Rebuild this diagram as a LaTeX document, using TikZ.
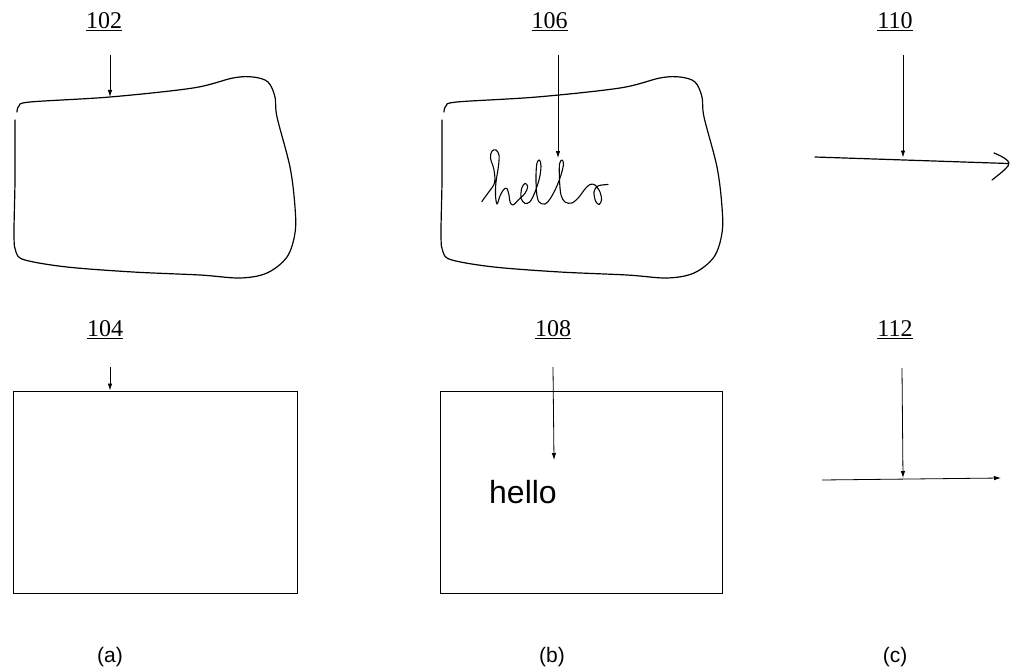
\documentclass[tikz,border=0pt]{standalone}
\usepackage{fontspec}
\setmainfont{Liberation Serif}
\newfontfamily\labelsans{Liberation Sans}
\usetikzlibrary{arrows.meta}

% freehand outline of a sketched region
\newcommand{\blobshape}{plot[smooth, tension=0.55] coordinates {
  (15,120) (15,180) (14,235) (16,252) (25,260) (67,267) (133,272) (200,275)
  (240,278) (267,273) (287,257) (295,233) (295,207) (290,167) (277,117)
  (275,97) (268,82) (253,77) (233,78) (193,88) (110,97) (30,102) (19,106) (17,112)}}

\tikzset{
  refnum/.style={font=\fontsize{24}{26}\selectfont, inner sep=0pt},
  caption/.style={font=\labelsans\fontsize{21}{24}\selectfont, inner sep=0pt},
  pointer/.style={-{Latex[length=7pt,width=4.5pt]}, line width=0.8pt},
  sketch/.style={line width=1.2pt, line cap=round, line join=round},
  box/.style={draw, line width=0.9pt},
}

\begin{document}
\begin{tikzpicture}[x=1pt, y=-1pt]
\useasboundingbox (0,0) rectangle (1013,669);

% ---------- column (a) ----------
\node[refnum] (n102) at (104,22) {\underline{102}};
\draw[sketch] \blobshape;
\coordinate (a1s) at (110,55);
\coordinate (a1e) at (110,97);
\draw[pointer] (a1s) -- (a1e);

\node[refnum] (n104) at (105,330) {\underline{104}};
\node[box, minimum width=284pt, minimum height=202pt, inner sep=0pt] (r104) at (155,492) {};
\coordinate (a2s) at (110,367);
\draw[pointer] (a2s) -- (r104.north -| a2s);

\node[caption] (ca) at (110,657) {(a)};

% ---------- column (b) ----------
\node[refnum] (n106) at (549.5,22) {\underline{106}};
\begin{scope}[shift={(427,0)}]
  \draw[sketch] \blobshape;
\end{scope}
% handwritten word
\draw[line width=1.1pt, line cap=round, line join=round] plot[smooth, tension=0.55] coordinates {
  (481.7,201.7) (488,193) (494.5,183) (494,170) (490.5,158) (492,151) (496,150)
  (499,155) (498.5,166) (496,182) (495.5,195) (497,204)
  (500,196) (503.3,190) (506.7,188.3) (509,195) (510,202) (513,205)
  (518.3,200) (525,193.3) (527.7,186.7) (525,183.3) (521.7,188.3) (521,198.3)
  (525,203.3) (530,201.7)
  (535,192) (539.5,178) (541,166) (539.5,160) (537,163) (536,175) (536.5,192)
  (539,202) (545,204) (550,199)
  (556,188) (561,175) (563.5,164) (562,160) (559.5,164) (559.5,180) (561,195)
  (565,202) (572,203) (579,197)
  (585,189) (590,184.5) (595,185) (600,192) (601.5,200) (599,204.5) (595.5,201)
  (594,192) (597,186.5) (602,185) (608,184.5)};
\coordinate (b1s) at (558,55);
\coordinate (b1e) at (558,158);
\draw[pointer] (b1s) -- (b1e);

\node[refnum] (n108) at (553,330) {\underline{108}};
\node[box, minimum width=282pt, minimum height=202pt, inner sep=0pt] (r108) at (581,492) {};
\node[font=\labelsans\fontsize{32}{34}\selectfont, inner sep=0pt, anchor=base west] (hello) at (489,503) {hello};
\coordinate (b2s) at (553,367);
\coordinate (b2e) at (554,460);
\draw[pointer] (b2s) -- (b2e);

\node[caption] (cb) at (552,657) {(b)};

% ---------- column (c) ----------
\node[refnum] (n110) at (895,22) {\underline{110}};
\coordinate (s1a) at (815,157);
\coordinate (s1b) at (1008,163.5);
\draw[sketch] (s1a) -- (s1b);
\coordinate (h1) at (994,153);
\coordinate (h2) at (992,180);
\draw[sketch] (h1) .. controls (1004,157) and (1012,162) .. (1008,166) .. controls (1004,171) and (997,176) .. (h2);
\coordinate (c1s) at (903,55);
\coordinate (c1e) at (903,157.5);
\draw[pointer] (c1s) -- (c1e);

\node[refnum] (n112) at (895,330) {\underline{112}};
\coordinate (s2a) at (822,480);
\coordinate (s2b) at (1001,478);
\draw[pointer] (s2a) -- (s2b);
\coordinate (c2s) at (902,368);
\coordinate (c2e) at (903,478);
\draw[pointer] (c2s) -- (c2e);

\node[caption] (cc) at (895,657) {(c)};
\end{tikzpicture}
\end{document}
